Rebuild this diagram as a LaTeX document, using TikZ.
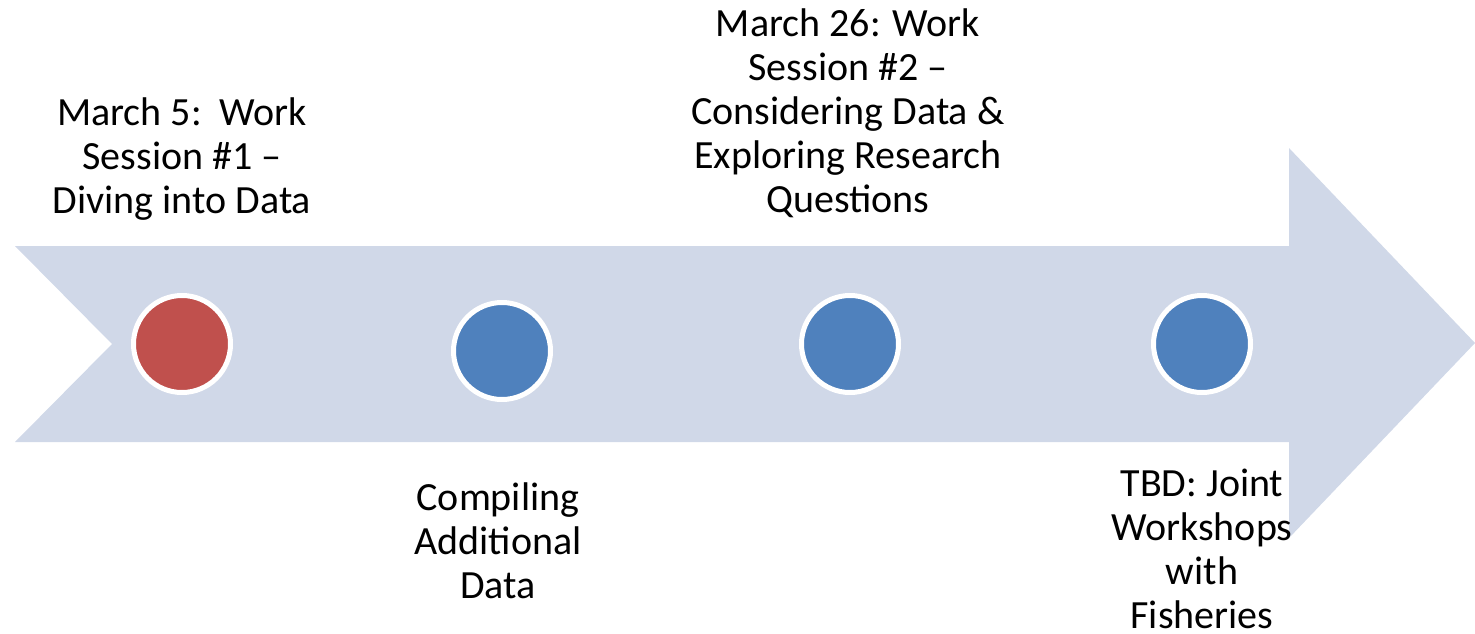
\documentclass[tikz,border=0pt]{standalone}
\usepackage{fontspec}
\setmainfont{Carlito}
\usetikzlibrary{positioning}
\definecolor{arrowfill}{HTML}{D0D8E8}
\definecolor{dotred}{HTML}{C0504D}
\definecolor{dotblue}{HTML}{4F81BD}
\begin{document}
\begin{tikzpicture}[x=1pt,y=-1pt,
dot/.style={circle,draw=white,line width=5pt,minimum size=97pt,inner sep=0pt},
stage/.style={align=center,inner sep=0pt,anchor=base,
 font=\fontsize{40}{44}\selectfont}]
 \useasboundingbox (0,0) rectangle (1475,634);
 % the big arrow
 \fill[arrowfill] (15,246) -- (1289,246) -- (1289,148) -- (1475,343)
 -- (1289,538) -- (1289,442) -- (15,442) -- (112,344) -- cycle;
 \node[dot,fill=dotred] (d1) at (182,344) {};
 \node[dot,fill=dotblue] (d2) at (502,351) {};
 \node[dot,fill=dotblue] (d3) at (850,344) {};
 \node[dot,fill=dotblue] (d4) at (1202,344) {};
 \node[stage] (s1) at (182,213) {March 5:\ \ Work\\Session \#1 --\\Diving into Data};
 \node[stage] (s2) at (498,598) {Compiling\\Additional\\Data};
 \node[stage] (s3) at (848,212) {March 26: Work\\Session \#2 --\\Considering Data \&\\Exploring Research\\Questions};
 \node[stage] (s4) at (1202,628) {TBD: Joint\\Workshops\\with\\Fisheries};
\end{tikzpicture}
\end{document}
